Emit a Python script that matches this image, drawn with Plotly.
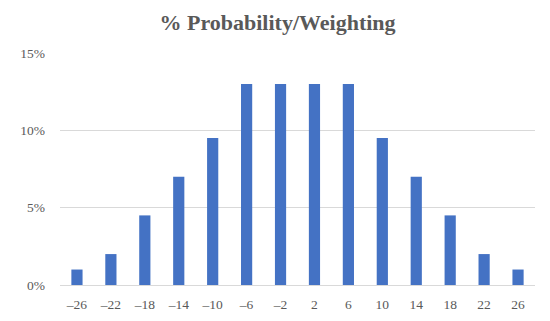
import plotly.graph_objects as go

categories = ["–26", "–22", "–18", "–14", "–10", "–6", "–2", "2", "6", "10", "14", "18", "22", "26"]
values = [1, 2, 4.5, 7, 9.5, 13, 13, 13, 13, 9.5, 7, 4.5, 2, 1]
y_ticks = [0, 5, 10, 15]
y_tick_labels = ["0%", "5%", "10%", "15%"]

fig = go.Figure(go.Bar(x=categories, y=values, marker_color="#4472C4", marker_line_width=0))

font = "Liberation Serif, DejaVu Serif, serif"
fig.update_layout(
    width=550, height=321,
    margin=dict(l=40, r=23, t=45, b=44),
    paper_bgcolor="white", plot_bgcolor="white",
    bargap=0.67,
    showlegend=False,
    title=dict(text="<b>% Probability/Weighting</b>", x=0.49, xanchor="center", y=0.955, yanchor="middle",
               font=dict(family=font, size=22, color="#595959")),
    font=dict(family=font, color="#595959", size=13.5),
)
fig.update_xaxes(type="category", showgrid=False, showline=True, linecolor="#d9d9d9", linewidth=1,
                 ticks="", ticklabelstandoff=7, tickfont=dict(size=13.5, color="#595959"))
fig.update_yaxes(range=[0, 15], tickvals=y_ticks, ticktext=y_tick_labels, showgrid=True,
                 gridcolor="#d9d9d9", gridwidth=1, zeroline=False, showline=False, ticks="",
                 ticklabelstandoff=14, tickfont=dict(size=13.5, color="#595959"))

fig.write_html("out.html")
